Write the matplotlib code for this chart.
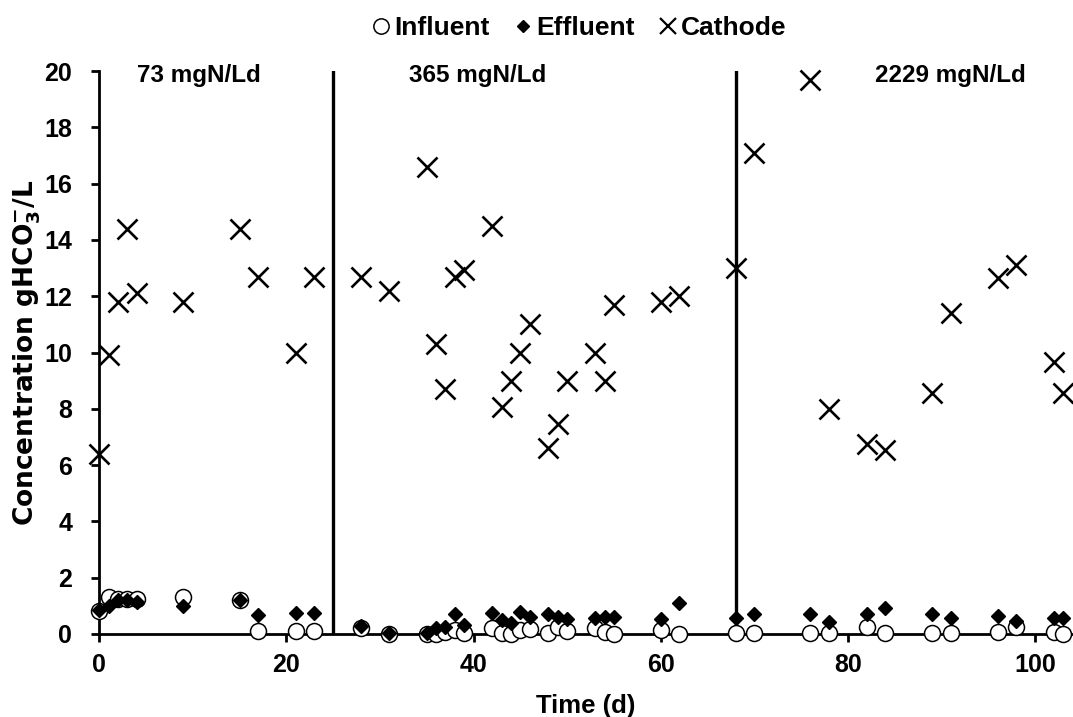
import matplotlib
matplotlib.use("Agg")
import matplotlib.pyplot as plt
from matplotlib.lines import Line2D

plt.rcParams['font.family'] = ['Liberation Sans', 'DejaVu Sans']
plt.rcParams['font.weight'] = 'bold'
plt.rcParams['mathtext.fontset'] = 'custom'
plt.rcParams['mathtext.rm'] = 'DejaVu Sans:bold'
plt.rcParams['mathtext.bf'] = 'DejaVu Sans:bold'

# sampling days (d)
days = [0, 1, 2, 3, 4, 9, 15, 17, 21, 23,
        28, 31, 35, 36, 37, 38, 39, 42, 43, 44, 45, 46,
        48, 49, 50, 53, 54, 55, 60, 62,
        68, 70, 76, 78, 82, 84, 89, 91, 96, 98, 102, 103]

# concentrations gHCO3-/L
influent = [0.8, 1.3, 1.25, 1.25, 1.25, 1.3, 1.2, 0.12, 0.12, 0.12,
            0.2, 0.0, 0.0, 0.0, 0.08, 0.14, 0.04, 0.2, 0.03, 0.0, 0.14, 0.17,
            0.03, 0.24, 0.12, 0.2, 0.08, 0.0, 0.15, 0.0,
            0.05, 0.05, 0.05, 0.03, 0.26, 0.05, 0.05, 0.05, 0.08, 0.24, 0.08, 0.0]
effluent = [0.85, 1.0, 1.2, 1.2, 1.15, 1.0, 1.2, 0.68, 0.75, 0.75,
            0.28, 0.02, 0.05, 0.2, 0.25, 0.7, 0.32, 0.75, 0.5, 0.4, 0.78, 0.62,
            0.72, 0.62, 0.52, 0.56, 0.6, 0.6, 0.52, 1.1,
            0.56, 0.7, 0.7, 0.44, 0.7, 0.92, 0.7, 0.56, 0.63, 0.46, 0.56, 0.56]
cathode = [6.4, 9.9, 11.8, 14.4, 12.1, 11.8, 14.4, 12.7, 10.0, 12.7,
           12.7, 12.2, 16.6, 10.3, 8.7, 12.7, 12.95, 14.5, 8.05, 9.0, 10.0, 11.0,
           6.6, 7.45, 9.0, 10.0, 9.0, 11.7, 11.8, 12.0,
           13.0, 17.1, 19.7, 8.0, 6.75, 6.55, 8.55, 11.4, 12.65, 13.1, 9.65, 8.55]

# loading phases
phase_change = [25, 68]
phase_labels = ['73 mgN/Ld', '365 mgN/Ld', '2229 mgN/Ld']
phase_label_x = [10.6, 40.4, 91]

fig = plt.figure(figsize=(10.73, 7.17), dpi=100)
ax = fig.add_axes([0.0925, 0.1158, 0.907, 0.785])

ax.plot(days, influent, 'o', ms=11.5, mfc='white', mec='black', mew=1.1,
        clip_on=False, zorder=3)
ax.plot(days, effluent, 'D', ms=6.8, mfc='black', mec='black',
        clip_on=False, zorder=4)
ax.plot(days, cathode, 'x', ms=14, mec='black', mew=1.9,
        clip_on=False, zorder=5)

for d in phase_change:
    ax.plot([d, d], [0, 20], color='black', lw=2.4, zorder=2)

for lab, lx in zip(phase_labels, phase_label_x):
    ax.text(lx, 19.85, lab, ha='center', va='center', fontsize=17.5,
            fontweight='bold')

ax.set_xlim(0, 104)
ax.set_ylim(0, 20)
ax.set_xticks(range(0, 101, 20))
ax.set_yticks(range(0, 21, 2))
ax.tick_params(labelsize=18, width=2, length=5.5, direction='out')
ax.tick_params(axis='y', pad=14)
ax.tick_params(axis='x', pad=8)
for s in ['top', 'right']:
    ax.spines[s].set_visible(False)
for s in ['left', 'bottom']:
    ax.spines[s].set_linewidth(2)

ax.set_xlabel('Time (d)', fontsize=18.5, fontweight='bold')
ax.xaxis.set_label_coords(0.5, -0.128)
ax.xaxis.label.set_va('center')
ax.set_ylabel(r'Concentration gHCO$_\mathbf{3}^\mathbf{-}$/L', fontsize=19,
              fontweight='bold', family=['DejaVu Sans'])
ax.yaxis.set_label_coords(-0.0738, 0.5)
ax.yaxis.label.set_va('center')

handles = [
    Line2D([], [], ls='', marker='o', ms=11, mfc='white', mec='black', mew=1.1),
    Line2D([], [], ls='', marker='D', ms=6.5, mfc='black', mec='black'),
    Line2D([], [], ls='', marker='x', ms=11, mec='black', mew=1.6),
]
fig.legend(handles, ['Influent', 'Effluent', 'Cathode'], loc='center',
           bbox_to_anchor=(0.538, 0.961), ncol=3, frameon=False, fontsize=19,
           handletextpad=0.0, columnspacing=0.75, handlelength=1.0)

fig.savefig('out.png', dpi=100)
